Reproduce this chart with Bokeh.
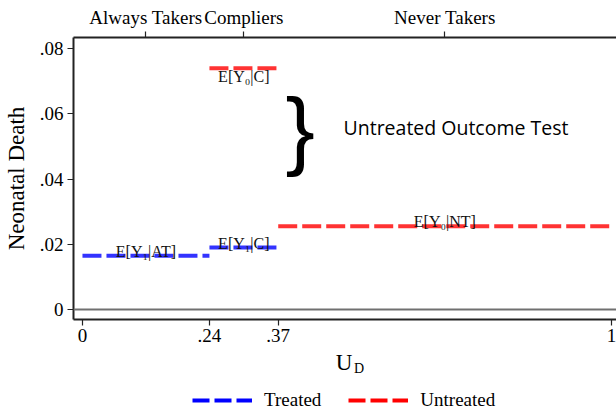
from bokeh.plotting import figure
from bokeh.layouts import column
from bokeh.models import (Range1d, LinearAxis, FixedTicker, Span, Label,
                          Legend, LegendItem, ColumnDataSource)
from bokeh.core.properties import value
from bokeh.embed import file_html
from bokeh.resources import INLINE

# Complier groups along the unobserved resistance U_D
group_names = ["Always Takers", "Compliers", "Never Takers"]
ud_edges = [0.0, 0.24, 0.37, 1.0]
ud_tick_labels = ["0", ".24", ".37", "1"]

# Mean neonatal death by group and treatment status
treated_x0 = [0.0, 0.24]
treated_x1 = [0.24, 0.37]
treated_y = [0.0165, 0.019]
treated_labels = ["E[Y\u2081|AT]", "E[Y\u2081|C]"]

untreated_x0 = [0.24, 0.37]
untreated_x1 = [0.37, 1.0]
untreated_y = [0.074, 0.0255]
untreated_labels = ["E[Y\u2080|C]", "E[Y\u2080|NT]"]

y_ticks = [0, 0.02, 0.04, 0.06, 0.08]
y_tick_labels = ["0", ".02", ".04", ".06", ".08"]

SERIF = "Liberation Serif"
BLUE_LINE = "#3333ff"
RED_LINE = "#ff3333"
AXIS_COLOR = "#222222"
X_RANGE = (-0.01695, 1.0094)

p = figure(width=616, height=351, output_backend="svg", toolbar_location=None,
           x_range=Range1d(*X_RANGE), y_range=Range1d(-0.00307, 0.08344),
           min_border_left=71, min_border_right=0, min_border_top=37,
           min_border_bottom=32)
p.xgrid.visible = False
p.ygrid.visible = False
p.outline_line_color = None
p.background_fill_color = "white"
p.border_fill_color = "white"


def style_axis(ax):
    ax.axis_line_color = AXIS_COLOR
    ax.axis_line_width = 2
    ax.major_tick_line_color = AXIS_COLOR
    ax.major_tick_line_width = 1.2
    ax.major_tick_out = 6
    ax.major_tick_in = 0
    ax.minor_tick_line_color = None
    ax.major_label_text_font = SERIF
    ax.major_label_text_font_size = "19px"
    ax.major_label_text_color = "black"
    ax.axis_label_text_font = SERIF
    ax.axis_label_text_font_style = "normal"
    ax.axis_label_text_color = "black"


# bottom axis: group boundaries
xa = p.xaxis[0]
style_axis(xa)
xa.ticker = FixedTicker(ticks=ud_edges)
xa.major_label_overrides = dict(zip(ud_edges, ud_tick_labels))
xa.major_label_standoff = 3

# left axis
ya = p.yaxis[0]
style_axis(ya)
ya.ticker = FixedTicker(ticks=y_ticks)
ya.major_label_overrides = dict(zip(y_ticks, y_tick_labels))
ya.major_label_standoff = 4
ya.axis_label = "Neonatal Death"
ya.axis_label_text_font_size = "23px"
ya.axis_label_standoff = 8

# top axis: group names at the middle of each interval
mids = [(a + b) / 2 for a, b in zip(ud_edges[:-1], ud_edges[1:])]
top = LinearAxis(ticker=FixedTicker(ticks=mids),
                 major_label_overrides=dict(zip(mids, group_names)))
style_axis(top)
top.major_label_standoff = 4
p.add_layout(top, "above")

# reference line at zero
p.add_layout(Span(location=0, dimension="width", line_color="#707070",
                  line_width=2))

# group means
tsrc = ColumnDataSource(dict(x0=treated_x0, x1=treated_x1, y=treated_y,
                             xm=[(a + b) / 2 for a, b in zip(treated_x0, treated_x1)],
                             lab=treated_labels))
usrc = ColumnDataSource(dict(x0=untreated_x0, x1=untreated_x1, y=untreated_y,
                             xm=[(a + b) / 2 for a, b in zip(untreated_x0, untreated_x1)],
                             lab=untreated_labels))
p.segment(x0="x0", y0="y", x1="x1", y1="y", source=tsrc, line_color=BLUE_LINE,
          line_width=4, line_dash="19 5")
p.segment(x0="x0", y0="y", x1="x1", y1="y", source=usrc, line_color=RED_LINE,
          line_width=4, line_dash="19 5")

# expectation labels
p.text(x="xm", y="y", text="lab", source=tsrc, text_font=value(SERIF),
       text_font_size="16px", text_align="center", text_baseline="bottom",
       y_offset=4, text_color="#111111")
p.text(x=[usrc.data["xm"][0]], y=[untreated_y[0]], text=[untreated_labels[0]],
       text_font=value(SERIF), text_font_size="16px", text_align="center",
       text_baseline="top", y_offset=0, text_color="#111111")
p.text(x=[usrc.data["xm"][1]], y=[untreated_y[1]], text=[untreated_labels[1]],
       text_font=value(SERIF), text_font_size="16px", text_align="center",
       text_baseline="bottom", y_offset=4, text_color="#111111")

# brace and test annotation
p.add_layout(Label(x=0.4115, y=0.05552, text="}", text_font="Liberation Sans",
                   text_font_size="88px", text_align="center",
                   text_baseline="middle", text_color="black"))
p.add_layout(Label(x=0.4934, y=0.0558, text="Untreated Outcome Test",
                   text_font="Open Sans", text_font_size="19.5px",
                   text_align="left", text_baseline="alphabetic",
                   text_color="black"))

# lower strip: x axis title (U with subscript D) and legend
q = figure(width=616, height=58, output_backend="svg", toolbar_location=None,
           x_range=Range1d(*X_RANGE), y_range=Range1d(58, 0),
           min_border_left=71, min_border_right=0, min_border_top=0,
           min_border_bottom=0, x_axis_type=None, y_axis_type=None)
q.xgrid.visible = False
q.ygrid.visible = False
q.outline_line_color = None
q.background_fill_color = "white"
q.border_fill_color = "white"

x_mid = (X_RANGE[0] + X_RANGE[1]) / 2
q.add_layout(Label(x=x_mid - 0.002, y=11, text="U", text_font=SERIF,
                   text_font_size="23px", text_align="center",
                   text_baseline="middle", text_color="black"))
q.add_layout(Label(x=x_mid + 0.017, y=17, text="D", text_font=SERIF,
                   text_font_size="14px", text_align="left",
                   text_baseline="middle", text_color="black"))

# legend keys: the series drawn on a range that keeps them out of this strip
q.extra_y_ranges = {"keys": Range1d(1, 2)}
lt = q.segment(x0="x0", y0="y", x1="x1", y1="y", source=tsrc,
               y_range_name="keys", line_color="blue", line_width=4,
               line_dash="17 5")
lu = q.segment(x0="x0", y0="y", x1="x1", y1="y", source=usrc,
               y_range_name="keys", line_color="red", line_width=4,
               line_dash="17 5")
legend = Legend(items=[LegendItem(label="Treated", renderers=[lt]),
                       LegendItem(label="Untreated", renderers=[lu])],
                location=(119, -2), orientation="horizontal",
                border_line_color=None, background_fill_alpha=0,
                padding=0, margin=0, glyph_width=60, glyph_height=18,
                label_height=18, label_standoff=12, spacing=27,
                label_text_font=SERIF, label_text_font_size="19px",
                label_text_color="black")
q.add_layout(legend)

layout = column(p, q, spacing=0)
open("out.html", "w").write(file_html(layout, INLINE))
